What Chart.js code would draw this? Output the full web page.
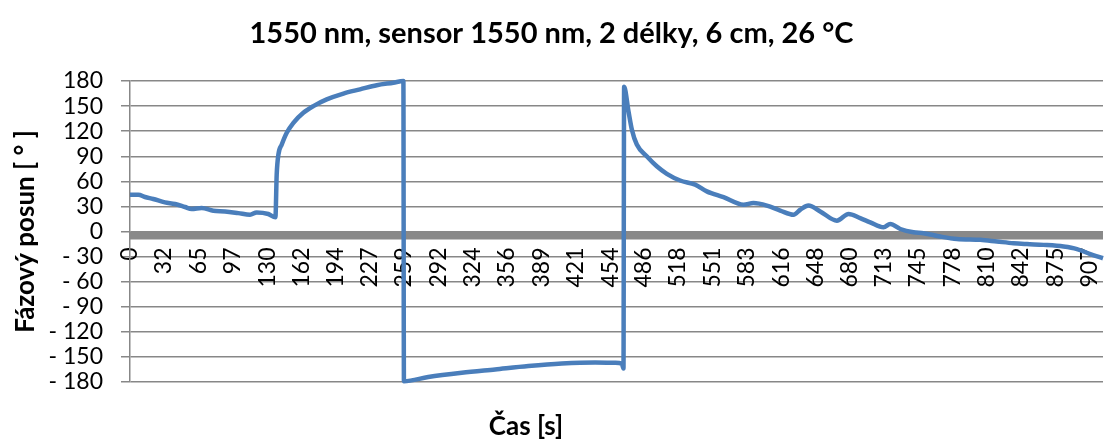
<!DOCTYPE html>
<html>
<head>
<meta charset="utf-8">
<script src="https://cdn.jsdelivr.net/npm/chart.js@4"></script>
<style>
  html, body { margin: 0; padding: 0; background: #fff; }
  #graf { display: block; }
</style>
</head>
<body>
<canvas id="graf" width="1106" height="441"></canvas>
<script>
/* ── Data: čas [s] a fázový posun [°] ── */
const casy = [
  0, 7.9, 14.2, 22, 33, 42.6, 52, 58.3, 67.8, 78.8, 89.9, 102.4, 113.5, 119.8, 130.8, 137.5,
  138.7, 140.3, 143.5, 148.2, 154.5, 163.9, 173.4, 186, 201.8, 217.5, 233.3, 249, 258.5,
  259, 282, 313.7, 345.2, 376.7, 408.3, 439.8, 458.7, 465, 466.6,
  467.2, 471.3, 474.5, 479.2, 488.6, 498.1, 507.6, 520.2, 534.4, 545.4, 561.2, 580.1, 589.5,
  602.2, 614.8, 627.4, 633.7, 641.5, 652.6, 668.4, 679.4, 690.4, 699.9, 712.5, 718.8, 728.3,
  740.8, 750.3, 766.1, 781.9, 803.9, 819.7, 835.4, 848.1, 863.8, 882.7, 895.4, 908, 920
];
const fazovyPosun = [
  44, 44, 41.3, 38.9, 34.8, 32.9, 29.3, 26.9, 28.1, 24.8, 24, 22, 20, 22.8, 20.9, 17,
  68, 92, 104, 118, 130, 142, 150, 158, 165, 170, 175, 178, 180,
  -179, -174, -169, -165, -161, -158, -156.7, -157, -158, -164,
  173, 144, 122, 104, 90, 78, 69, 61, 56, 48, 41, 32, 34,
  31, 25, 20, 26, 31, 24, 13, 21, 16, 11, 5, 9, 3,
  -1, -2, -6, -9, -10, -12, -14, -15, -16, -18, -21, -27, -32
];
const casTicks = [0, 32, 65, 97, 130, 162, 194, 227, 259, 292, 324, 356, 389, 421, 454,
  486, 518, 551, 583, 616, 648, 680, 713, 745, 778, 810, 842, 875, 907];

const FONT = 'Lato';
Chart.defaults.font.family = FONT;
Chart.defaults.color = '#000';

/* ── Šedá vodorovná osa v nule ── */
const nulovaOsa = {
  id: 'nulovaOsa',
  beforeDatasetsDraw(chart) {
    const { ctx, chartArea, scales } = chart;
    const y0 = scales.y.getPixelForValue(0);
    ctx.save();
    ctx.fillStyle = '#898989';
    ctx.fillRect(chartArea.left, y0, chartArea.right - chartArea.left, 8);
    ctx.restore();
  }
};

/* ── Popisek osy x pod grafem ── */
const popisekX = {
  id: 'popisekX',
  afterDraw(chart) {
    const ctx = chart.ctx;
    ctx.save();
    ctx.font = `bold 26px ${FONT}`;
    ctx.fillStyle = '#000';
    ctx.textAlign = 'center';
    ctx.textBaseline = 'middle';
    ctx.fillText('Čas [s]', 526, 427);
    ctx.restore();
  }
};

new Chart(document.getElementById('graf'), {
  type: 'line',
  data: {
    datasets: [{
      data: casy.map((t, i) => ({ x: t, y: fazovyPosun[i] })),
      borderColor: '#4a7ebb',
      borderWidth: 4.5,
      pointRadius: 0,
      cubicInterpolationMode: 'monotone',
      clip: false,
      fill: false,
    }]
  },
  options: {
    responsive: false,
    animation: false,
    layout: { padding: { left: 0, right: 3, top: 0, bottom: 59 } },
    plugins: {
      legend: { display: false },
      tooltip: { enabled: false },
      title: {
        display: true,
        text: '1550 nm, sensor 1550 nm, 2 délky, 6 cm, 26 °C',
        font: { size: 29, weight: 'bold' },
        color: '#000',
        padding: { top: 16, bottom: 30.2 },
      },
    },
    scales: {
      x: {
        type: 'linear',
        min: 0,
        max: 920,
        position: { y: 0 },
        afterFit: s => { s.height = 0; s.paddingLeft = 0; s.paddingRight = 0; },
        afterBuildTicks: s => { s.ticks = casTicks.map(v => ({ value: v })); },
        grid: { display: false, drawTicks: false },
        border: { display: false },
        ticks: {
          autoSkip: false,
          minRotation: 90,
          maxRotation: 90,
          padding: 16,
          font: { size: 23 },
          color: '#000',
          callback: v => String(v),
        },
      },
      y: {
        min: -180,
        max: 180,
        afterFit: s => { s.width = 130; },
        grid: { color: '#878787', lineWidth: 1.5, tickLength: 9 },
        border: { display: true, color: '#878787', width: 1.5 },
        ticks: {
          stepSize: 30,
          autoSkip: false,
          padding: 18,
          font: { size: 23 },
          color: '#000',
          callback: v => (v < 0 ? '- ' + Math.abs(v) : String(v)),
        },
        title: {
          display: true,
          text: 'Fázový posun [ ° ]',
          font: { size: 26, weight: 'bold' },
          color: '#000',
          padding: { top: 10, bottom: 0 },
        },
      },
    },
  },
  plugins: [nulovaOsa, popisekX],
});
</script>
</body>
</html>
